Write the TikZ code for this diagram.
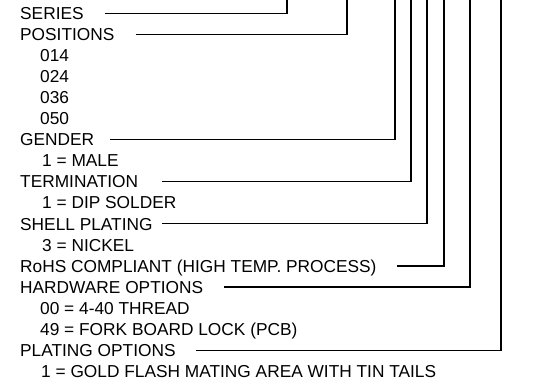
\documentclass[tikz,border=0pt]{standalone}
\usepackage{fontspec}
\setmainfont{Liberation Sans}
\tikzset{
  lbl/.style={anchor=west, inner sep=0pt, text height=12.4pt, text depth=0pt, font=\fontsize{17.3}{20}\selectfont},
  lead/.style={line width=1.2pt}
}

\begin{document}
\begin{tikzpicture}[x=1pt,y=-1pt]
			\useasboundingbox (0,0) rectangle (535,381);
			% top ends of the leaders
			\coordinate (t1) at (287,0); \coordinate (t2) at (347,0);
			\coordinate (t3) at (395,0); \coordinate (t4) at (411,0);
			\coordinate (t5) at (427,0); \coordinate (t6) at (444,0);
			\coordinate (t7) at (470,0); \coordinate (t8) at (501,0);
			
			\node[lbl] (series) at (20,13.2) {SERIES};
			\node[lbl] (positions) at (20,34.26) {POSITIONS};
			\node[lbl] (p1) at (40,55.32) {014};
			\node[lbl] (p2) at (40,76.38) {024};
			\node[lbl] (p3) at (40,97.44) {036};
			\node[lbl] (p4) at (40,118.5) {050};
			\node[lbl] (gender) at (20,139.56) {GENDER};
			\node[lbl] (g1) at (42,160.62) {1 = MALE};
			\node[lbl] (term) at (20,181.68) {TERMINATION};
			\node[lbl] (tm1) at (42,202.74) {1 = DIP SOLDER};
			\node[lbl] (shell) at (20,223.8) {SHELL PLATING};
			\node[lbl] (sh1) at (42,244.86) {3 = NICKEL};
			\node[lbl] (rohs) at (20,265.92) {RoHS COMPLIANT (HIGH TEMP. PROCESS)};
			\node[lbl] (hw) at (20,286.98) {HARDWARE OPTIONS};
			\node[lbl] (hw1) at (40,308.04) {00 = 4-40 THREAD};
			\node[lbl] (hw2) at (40,329.1) {49 = FORK BOARD LOCK (PCB)};
			\node[lbl] (plat) at (20,350.16) {PLATING OPTIONS};
			\node[lbl] (pl1) at (41,371.22) {1 = GOLD FLASH MATING AREA WITH TIN TAILS};
			
			\draw[lead] ([xshift=21pt]series.east) -| (t1);
			\draw[lead] ([xshift=21pt]positions.east) -| (t2);
			\draw[lead] ([xshift=16pt]gender.east) -| (t3);
			\draw[lead] ([xshift=24pt]term.east) -| (t4);
			\draw[lead] ([xshift=9pt]shell.east) -| (t5);
			\draw[lead] ([xshift=20pt]rohs.east) -| (t6);
			\draw[lead] ([xshift=21pt]hw.east) -| (t7);
			\draw[lead] ([xshift=20pt]plat.east) -| (t8);
\end{tikzpicture}
\end{document}
